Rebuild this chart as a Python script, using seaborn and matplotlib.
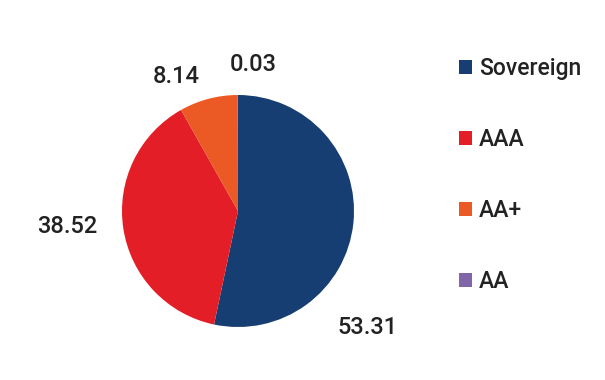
import matplotlib
matplotlib.use("Agg")
import matplotlib.pyplot as plt
import seaborn as sns

ratings = ["Sovereign", "AAA", "AA+", "AA"]
shares = [53.31, 38.52, 8.14, 0.03]
colors = ["#173e72", "#e31e26", "#eb5a24", "#8066a8"]

# where each value label sits, in pie-radius units
label_pos = [(1.12, -1.00), (-1.47, -0.13), (-0.53, 1.16), (0.13, 1.26)]

sns.set_theme(style="white")
plt.rcParams["font.family"] = ["Roboto", "DejaVu Sans"]

fig = plt.figure(figsize=(6.05, 3.8), dpi=100)
ax = fig.add_axes([(238 - 116) / 605, (380 - 327) / 380, 232 / 605, 232 / 380])

wedges, _ = ax.pie(shares, colors=sns.color_palette(colors), startangle=90,
                   counterclock=False, radius=1,
                   wedgeprops={"linewidth": 0})
ax.set_xlim(-1, 1)
ax.set_ylim(-1, 1)
ax.set_aspect("equal")
ax.axis("off")

for val, (x, y) in zip(shares, label_pos):
    ax.text(x, y, f"{val:.2f}", ha="center", va="center", fontsize=17,
            fontweight="medium", color="#222222", clip_on=False)

leg = fig.legend(wedges, ratings, loc="upper left", bbox_to_anchor=(0.725, 0.905),
                 frameon=False, handlelength=0.55, handleheight=0.55,
                 handletextpad=0.3, labelspacing=2.1,
                 prop={"size": 16.5, "weight": "medium"})
for t in leg.get_texts():
    t.set_color("#222222")

fig.savefig("out.png", dpi=100)
